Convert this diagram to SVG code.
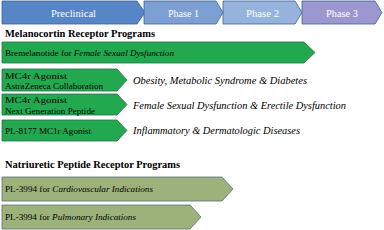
<svg xmlns="http://www.w3.org/2000/svg" width="384" height="230" viewBox="0 0 384 230" font-family="Liberation Serif, Times New Roman, serif">
<style>
text{font-family:"Liberation Serif","Times New Roman",serif}
.hd{font-size:10.5px;fill:#ffffff;text-anchor:middle}
.sec{font-size:10.5px;font-weight:bold;fill:#000}
.lbl{font-size:9px;fill:#000}
.ind{font-size:10.5px;font-style:italic;fill:#000}
.green{fill:#22a94f;stroke:#2c6e4c;stroke-width:0.8}
.olive{fill:#9db27b;stroke:#5d6d78;stroke-width:0.8}
.ph{stroke:#3d5f94;stroke-width:0.8}
</style>
<rect width="384" height="230" fill="#ffffff"/>
<g id="header">
<g id="preclinical"><polygon class="ph" fill="#5686c6" points="2,1 137,1 145,12.5 137,24 2,24"/><text class="hd" x="73.5" y="16.5" textLength="45" lengthAdjust="spacingAndGlyphs">Preclinical</text></g>
<g id="phase1"><polygon class="ph" fill="#7c9fd4" points="144,1 216,1 223,12.5 216,24 144,24"/><text class="hd" x="183.5" y="16.5" textLength="31" lengthAdjust="spacingAndGlyphs">Phase 1</text></g>
<g id="phase2"><polygon class="ph" fill="#95b3dd" points="223,1 295,1 302,12.5 295,24 223,24"/><text class="hd" x="262.5" y="16.5" textLength="33" lengthAdjust="spacingAndGlyphs">Phase 2</text></g>
<g id="phase3"><polygon class="ph" fill="#9c97d0" points="302,1 375,1 382,12.5 375,24 302,24"/><text class="hd" x="342" y="16.5" textLength="32" lengthAdjust="spacingAndGlyphs">Phase 3</text></g>
</g>
<text class="sec" x="5" y="37" textLength="150" lengthAdjust="spacingAndGlyphs">Melanocortin Receptor Programs</text>
<g id="bremelanotide"><polygon class="green" points="2,42 304,42 315,52.5 304,63 2,63"/><text class="lbl" x="5" y="56" textLength="169" lengthAdjust="spacingAndGlyphs">Bremelanotide for <tspan font-style="italic">Female Sexual Dysfunction</tspan></text></g>
<g id="mc4r-az"><polygon class="green" points="2,69 117,69 127,80 117,91 2,91"/><text class="lbl" x="5" y="78.5" textLength="62" lengthAdjust="spacingAndGlyphs">MC4r Agonist</text><text class="lbl" x="5" y="89" textLength="98" lengthAdjust="spacingAndGlyphs">AstraZeneca Collaboration</text></g>
<g id="mc4r-next"><polygon class="green" points="2,94 117,94 127,104.5 117,115 2,115"/><text class="lbl" x="5" y="103" textLength="62" lengthAdjust="spacingAndGlyphs">MC4r Agonist</text><text class="lbl" x="5" y="113.5" textLength="90" lengthAdjust="spacingAndGlyphs">Next Generation Peptide</text></g>
<g id="pl8177"><polygon class="green" points="2,120 117,120 127,130.5 117,141 2,141"/><text class="lbl" x="5" y="134" textLength="86" lengthAdjust="spacingAndGlyphs">PL-8177 MC1r Agonist</text></g>
<text class="ind" x="133" y="84" textLength="174" lengthAdjust="spacingAndGlyphs">Obesity, Metabolic Syndrome &amp; Diabetes</text>
<text class="ind" x="133" y="109" textLength="213" lengthAdjust="spacingAndGlyphs">Female Sexual Dysfunction &amp; Erectile Dysfunction</text>
<text class="ind" x="133" y="134" textLength="167" lengthAdjust="spacingAndGlyphs">Inflammatory &amp; Dermatologic Diseases</text>
<text class="sec" x="5" y="168" textLength="175" lengthAdjust="spacingAndGlyphs">Natriuretic Peptide Receptor Programs</text>
<g id="pl3994-cv"><polygon class="olive" points="2,177 222,177 233,189 222,201 2,201"/><text class="lbl" x="5" y="192" textLength="148" lengthAdjust="spacingAndGlyphs">PL-3994 for <tspan font-style="italic">Cardiovascular Indications</tspan></text></g>
<g id="pl3994-pulm"><polygon class="olive" points="2,205 190,205 201,217 190,229 2,229"/><text class="lbl" x="5" y="220" textLength="131" lengthAdjust="spacingAndGlyphs">PL-3994 for <tspan font-style="italic">Pulmonary Indications</tspan></text></g>
<g id="connectors"/>
</svg>
